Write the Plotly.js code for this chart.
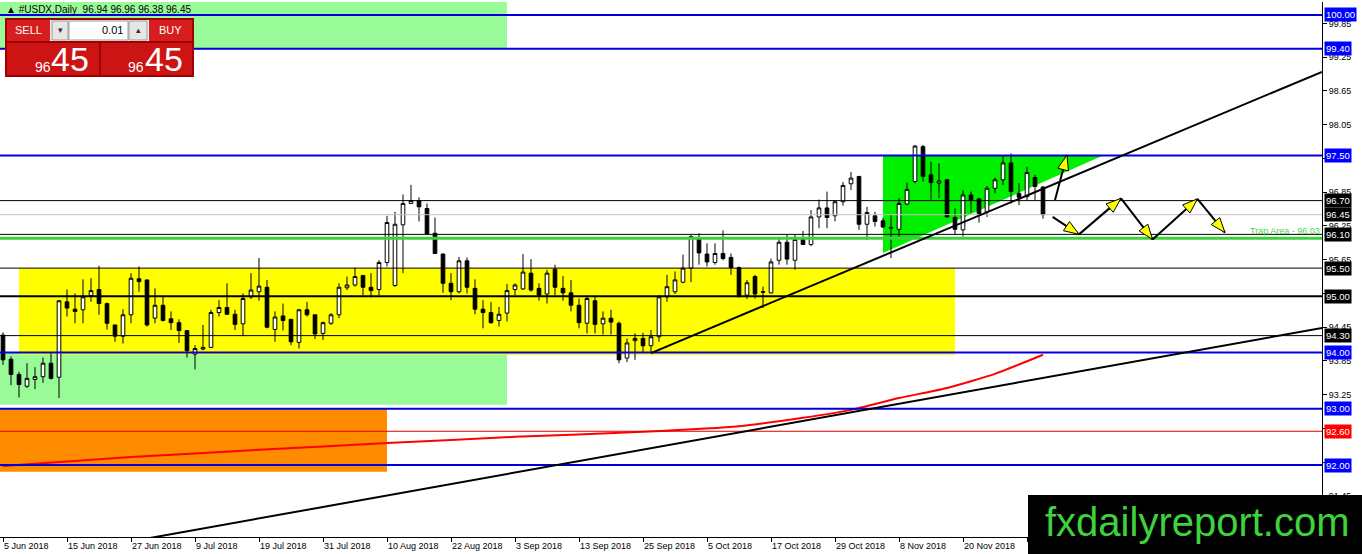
<!DOCTYPE html>
<html><head><meta charset="utf-8">
<script src="https://cdn.plot.ly/plotly-3.0.1.min.js"></script>
<style>html,body{margin:0;padding:0;background:#fff;overflow:hidden}#chart{width:1362px;height:554px}</style>
</head><body><div id="chart"></div>
<script>
// ---------------- DATA ----------------
const firstDate = '2018-06-05';
const barCount = 131;
const opens  = [94.31,93.88,93.61,93.40,93.52,93.57,93.81,93.56,94.90,94.77,94.76,95.01,95.12,94.87,94.49,94.29,94.67,95.31,95.29,94.61,94.84,94.60,94.53,94.39,93.97,94.06,94.09,94.71,94.80,94.68,94.51,94.99,95.08,95.16,94.41,94.65,94.59,94.18,94.76,94.67,94.34,94.52,94.67,95.15,95.20,95.37,95.16,95.12,95.60,95.19,96.27,96.65,96.70,96.56,96.12,95.75,95.23,95.08,95.63,95.14,94.77,94.71,94.57,94.70,95.12,95.13,95.41,95.14,95.04,95.48,95.14,95.06,94.84,94.52,94.92,94.51,94.61,94.52,93.90,94.21,94.25,94.12,94.28,94.99,95.08,95.25,95.50,96.02,95.75,95.60,95.76,95.69,95.51,95.02,95.35,95.07,95.06,95.64,95.96,95.64,96.01,95.92,96.41,96.57,96.43,96.68,97.00,97.13,96.28,96.43,96.34,96.21,96.19,96.64,97.04,97.66,97.16,97.01,97.07,96.40,96.18,96.80,96.73,96.50,96.92,97.07,97.37,96.83,96.77,97.11,96.94];
const highs  = [94.36,93.93,93.66,93.81,93.74,93.91,94.00,94.93,95.12,95.05,95.30,95.32,95.54,94.89,94.49,94.77,95.41,95.53,95.29,95.14,94.99,94.73,94.59,94.39,94.13,94.49,94.76,94.93,95.23,94.76,95.05,95.41,95.68,95.29,94.73,94.87,94.59,94.77,94.90,94.67,94.55,94.70,95.23,95.35,95.51,95.37,95.41,95.64,96.43,96.50,96.81,96.98,96.76,96.65,96.40,95.76,95.41,95.70,95.69,95.30,94.93,94.90,94.81,95.22,95.23,95.75,95.66,95.23,95.47,95.56,95.36,95.29,94.96,94.99,94.99,94.73,94.76,94.55,94.25,94.34,94.35,94.40,95.02,95.38,95.44,95.74,96.09,96.12,95.94,95.94,96.17,95.76,95.53,95.29,95.38,95.17,95.67,96.03,96.09,96.09,96.16,96.53,96.72,96.86,96.71,97.03,97.21,97.13,96.59,96.50,96.39,96.44,96.74,97.02,97.69,97.69,97.39,97.36,97.08,96.56,96.89,96.86,96.75,96.96,97.11,97.51,97.54,97.01,97.30,97.16,96.96];
const lows   = [93.78,93.42,93.20,93.37,93.35,93.46,93.52,93.19,94.64,94.52,94.52,94.90,94.67,94.41,94.19,94.16,94.52,95.08,94.46,94.52,94.55,94.40,94.17,93.91,93.70,94.04,94.09,94.64,94.67,94.40,94.29,94.95,94.92,94.43,94.19,94.39,94.13,94.07,94.64,94.24,94.22,94.49,94.61,95.11,95.17,95.02,94.98,95.02,95.53,95.17,95.41,96.65,96.33,96.09,95.76,95.06,94.93,95.05,95.05,94.68,94.43,94.51,94.46,94.55,95.02,95.11,95.08,94.92,94.87,95.02,94.92,94.73,94.43,94.34,94.34,94.32,94.32,93.81,93.83,93.87,94.01,93.99,94.19,94.90,95.04,95.23,95.25,95.56,95.53,95.56,95.64,95.38,94.99,94.95,94.96,94.79,95.05,95.56,95.56,95.47,95.91,95.89,96.21,96.21,96.33,96.61,96.89,96.18,96.00,96.24,96.21,95.68,96.06,96.62,97.01,97.04,96.71,96.74,96.40,96.09,96.06,96.49,96.31,96.41,96.83,96.98,96.65,96.62,96.71,96.71,96.38];
const closes = [93.87,93.61,93.43,93.54,93.57,93.81,93.54,94.92,94.79,94.73,94.99,95.10,94.87,94.52,94.29,94.67,95.32,95.26,94.49,94.84,94.57,94.53,94.39,94.03,94.07,94.09,94.71,94.80,94.68,94.50,94.96,95.11,95.18,94.45,94.63,94.57,94.19,94.76,94.67,94.33,94.53,94.67,95.16,95.20,95.35,95.16,95.10,95.60,96.31,96.28,96.65,96.70,96.59,96.11,95.76,95.23,95.08,95.63,95.16,94.77,94.71,94.53,94.68,95.10,95.20,95.43,95.11,95.02,95.41,95.16,95.06,94.84,94.53,94.96,94.50,94.61,94.54,93.87,94.17,94.25,94.12,94.28,94.99,95.17,95.29,95.50,96.06,95.77,95.61,95.76,95.67,95.51,94.99,95.24,95.04,95.08,95.61,95.96,95.66,96.01,95.92,96.41,96.57,96.40,96.68,96.97,97.10,96.28,96.49,96.33,96.23,96.22,96.65,96.90,97.67,97.13,97.02,97.05,96.41,96.19,96.80,96.71,96.47,96.92,97.07,97.37,96.86,96.76,97.20,96.95,96.45];

// moving average (read at selected bars)
const maBars = [0,16,32,48,64,80,92,100,106,112,118,124,130];
const maVals = [91.98,92.14,92.27,92.39,92.50,92.59,92.69,92.84,92.98,93.19,93.37,93.62,93.96];

// date tick labels
const tickBars   = [0,8,16,24,32,40,48,56,64,72,80,88,96,104,112,120,128];
const tickLabels = ['5 Jun 2018','15 Jun 2018','27 Jun 2018','9 Jul 2018','19 Jul 2018','31 Jul 2018','10 Aug 2018','22 Aug 2018','3 Sep 2018','13 Sep 2018','25 Sep 2018','5 Oct 2018','17 Oct 2018','29 Oct 2018','8 Nov 2018','20 Nov 2018','30 Nov 2018'];
const priceTicks = [91.45,92.05,92.65,93.25,93.85,94.45,95.05,95.65,96.25,96.85,97.45,98.05,98.65,99.25,99.85];
const hiddenTickLabels = [92.05,92.65,95.05,97.45]; // covered by the level boxes in the picture

// horizontal levels
const levelPrices = [100.00,99.40,97.50,96.70,96.45,96.10,95.50,95.00,94.30,94.00,93.00,92.60,92.00];
const levelKinds  = ['blue','blue','blue','black','bid','black','black','blackBold','black','blue','blue','red','blue'];
const trapLevel = 96.03;
const trapLabel = 'Trap Area - 96.03';

// zones [barFrom, barTo, priceLow, priceHigh]
const zoneTopGreen    = [-1, 63, 99.40, 101.0];
const zoneBottomGreen = [-1, 63, 93.07, 94.00];
const zoneOrange      = [-1, 48, 91.88, 93.00];
const zoneYellow      = [2, 119, 93.96, 95.50];
const triangleBars    = [110, 110, 137.5];
const trianglePrices  = [97.50, 95.77, 97.50];

// trendlines [bar0, price0, bar1, price1]
const trend1 = [81, 93.99, 164.875, 98.99];       // segment starting at the September low
const trend2 = [24.625, 90.862, 164.875, 94.436]; // long ray, enters from the bottom edge

// projection arrows
const upArrowBars = [131.5, 133.0];
const upArrowPrices = [96.71, 97.51];
const zigBars   = [131.2, 134.5, 139.75, 143.7, 149.3, 152.75];
const zigPrices = [96.41, 96.10, 96.74, 96.01, 96.73, 96.13];

const headerText = '▲ #USDX,Daily  96.94 96.96 96.38 96.45';
const bidBig = '45', bidSmall = '96';
const lotText = '0.01';
const watermark = 'fxdailyreport.com';

// ---------------- BUILD ----------------
const dates = [];
(function(){ const d = new Date(firstDate + 'T00:00:00Z');
  while (dates.length < barCount) { const w = d.getUTCDay(); if (w !== 0 && w !== 6) dates.push(d.toISOString().slice(0,10)); d.setUTCDate(d.getUTCDate() + 1); } })();

const FONT = 'Liberation Sans, Arial, sans-serif';
const W = 1362, H = 554, M = {l:0, r:40, t:2, b:17};
const PW = W - M.l - M.r, PH = H - M.t - M.b;
const xRange = [-0.375, 164.875], yRange = [90.72, 100.231];
const sx = PW / (xRange[1] - xRange[0]), sy = PH / (yRange[1] - yRange[0]);
const px = x => (x - M.l) / PW;
const py = y => (M.t + PH - y) / PH;

const BLUE = '#0000DC';
const levelStyle = {
  blue: {line: BLUE, w: 2, bg: '#0000FF'},
  black: {line: '#000', w: 1, bg: '#000'},
  blackBold: {line: '#000', w: 2, bg: '#000'},
  bid: {line: '#C0C0C0', w: 1, bg: '#000'},
  red: {line: '#E00000', w: 1, bg: '#FF0000'}
};

const shapes = [];
const annotations = [];

function zone(z, color) {
  shapes.push({type:'rect', xref:'x', yref:'y', x0:z[0], x1:z[1], y0:z[2], y1:z[3], fillcolor:color, line:{width:0}, layer:'below'});
}
zone(zoneTopGreen, '#98FB98');
zone(zoneBottomGreen, '#98FB98');
zone(zoneOrange, '#FF8C00');
zone(zoneYellow, '#FFFF00');
shapes.push({type:'path', xref:'x', yref:'y', layer:'below', fillcolor:'#00F000', line:{width:0},
  path: 'M ' + triangleBars.map((b,i) => b + ',' + trianglePrices[i]).join(' L ') + ' Z'});

levelPrices.forEach((p, i) => {
  const st = levelStyle[levelKinds[i]];
  shapes.push({type:'line', xref:'paper', yref:'y', x0:0, x1:1, y0:p, y1:p, line:{color:st.line, width:st.w}, layer:'above'});
});
shapes.push({type:'line', xref:'paper', yref:'y', x0:0, x1:1, y0:trapLevel, y1:trapLevel, line:{color:'#3CD03C', width:3}, layer:'above'});

shapes.push({type:'line', xref:'x', yref:'y', x0:trend1[0], y0:trend1[1], x1:trend1[2], y1:trend1[3], line:{color:'#000', width:2}, layer:'above'});
(function(){
  const t = trend2, slope = (t[3] - t[1]) / (t[2] - t[0]), xa = xRange[0];
  shapes.push({type:'line', xref:'x', yref:'y', x0:xa, y0:t[1] + slope * (xa - t[0]), x1:t[2], y1:t[3], line:{color:'#000', width:2}, layer:'above'});
})();

function arrow(b0, p0, b1, p1) {
  shapes.push({type:'line', xref:'x', yref:'y', x0:b0, y0:p0, x1:b1, y1:p1, line:{color:'#000', width:2}, layer:'above'});
  const dx = (b1 - b0) * sx, dy = (p1 - p0) * sy, L = Math.hypot(dx, dy);
  const ux = dx / L, uy = dy / L, nx = -uy, ny = ux;
  const len = 15, hw = 5.5;
  const bx = -ux * len, by = -uy * len;
  const c1 = [b1 + (bx + nx * hw) / sx, p1 + (by + ny * hw) / sy];
  const c2 = [b1 + (bx - nx * hw) / sx, p1 + (by - ny * hw) / sy];
  shapes.push({type:'path', xref:'x', yref:'y', layer:'above', fillcolor:'#FFFF00', line:{color:'#000', width:1},
    path: `M ${b1},${p1} L ${c1[0]},${c1[1]} L ${c2[0]},${c2[1]} Z`});
}
arrow(upArrowBars[0], upArrowPrices[0], upArrowBars[1], upArrowPrices[1]);
for (let i = 0; i < zigBars.length - 1; i++) arrow(zigBars[i], zigPrices[i], zigBars[i+1], zigPrices[i+1]);

// price labels on the axis
levelPrices.forEach((p, i) => {
  const st = levelStyle[levelKinds[i]];
  annotations.push({xref:'paper', yref:'y', x:1, xshift:2, y:p, xanchor:'left', yanchor:'middle', text:p.toFixed(2), showarrow:false,
    bgcolor:st.bg, borderpad:1, font:{family:FONT, size:9.5, color:'#fff'}});
});
annotations.push({xref:'paper', yref:'y', x:1, y:trapLevel, yshift:7, xanchor:'right', yanchor:'middle', text:trapLabel, showarrow:false,
  font:{family:FONT, size:9, color:'#4CD24C'}});

// header + trade panel (pixel placed)
function rect(x0, y0, x1, y1, fill, line) {
  shapes.push({type:'rect', xref:'paper', yref:'paper', x0:px(x0), x1:px(x1), y0:py(y1), y1:py(y0), fillcolor:fill, line:{width: line ? 1 : 0, color: line || fill}, layer:'above'});
}
function label(x, y, text, size, color, anchor) {
  annotations.push({xref:'paper', yref:'paper', x:px(x), y:py(y), text, showarrow:false,
    xanchor:anchor || 'center', yanchor:'middle', font:{family:FONT, size, color}});
}
label(4, 9, headerText, 10, '#000', 'left');
rect(5, 18, 194, 77, '#A00000');
rect(7, 20, 50, 41, '#D61E1E');
rect(50, 20, 149, 41, '#F2F2F2');
rect(52, 21, 68, 40, '#E6E6E6', '#9A9A9A');
rect(69, 21, 128, 40, '#FFFFFF', '#9A9A9A');
rect(129, 21, 147, 40, '#E6E6E6', '#9A9A9A');
rect(149, 20, 192, 41, '#D61E1E');
rect(7, 43, 99, 75, '#CC1414');
rect(101, 43, 192, 75, '#CC1414');
label(28.5, 30.5, 'SELL', 11, '#fff');
label(170.5, 30.5, 'BUY', 11, '#fff');
label(60, 30.5, '▾', 9, '#333');
label(138, 30.5, '▴', 9, '#333');
label(125, 30.5, lotText, 11, '#000', 'right');
label(43, 67, bidSmall, 14, '#fff');
label(70, 59, bidBig, 34, '#fff');
label(136, 67, bidSmall, 14, '#fff');
label(164, 59, bidBig, 34, '#fff');

// watermark
rect(1028, 495, 1362, 554, '#000');
label(1197, 522, watermark, 40, '#3FD23F');

const traces = [
  {type:'candlestick', x:dates, open:opens, high:highs, low:lows, close:closes,
   increasing:{line:{color:'#000', width:1}, fillcolor:'#FFFFFF'},
   decreasing:{line:{color:'#000', width:1}, fillcolor:'#000000'},
   whiskerwidth:0, hoverinfo:'skip', showlegend:false},
  {type:'scatter', mode:'lines', x:maBars.map(i => dates[i]), y:maVals, line:{color:'#FF0000', width:2, shape:'spline', smoothing:0.5}, hoverinfo:'skip', showlegend:false}
];

const layout = {
  width:W, height:H, margin:M, paper_bgcolor:'#fff', plot_bgcolor:'#fff', showlegend:false,
  font:{family:FONT, size:9, color:'#000'}, boxgap:0.35,
  xaxis:{type:'category', range:xRange, tickvals:tickBars.map(i => dates[i]), ticktext:tickLabels,
    ticks:'outside', ticklen:4, tickcolor:'#000', ticklabelposition:'outside right', showline:true, linecolor:'#000', linewidth:1,
    showgrid:false, zeroline:false, rangeslider:{visible:false}, fixedrange:true, tickfont:{family:FONT, size:9, color:'#000'}},
  yaxis:{side:'right', range:yRange, tickvals:priceTicks,
    ticktext:priceTicks.map(v => hiddenTickLabels.includes(v) ? '' : v.toFixed(2)), ticks:'outside', ticklen:4,
    tickcolor:'#000', showline:true, linecolor:'#000', linewidth:1, showgrid:false, zeroline:false, fixedrange:true,
    tickfont:{family:FONT, size:9, color:'#000'}},
  shapes, annotations
};

Plotly.newPlot('chart', traces, layout, {staticPlot:true, displayModeBar:false});
</script></body></html>
